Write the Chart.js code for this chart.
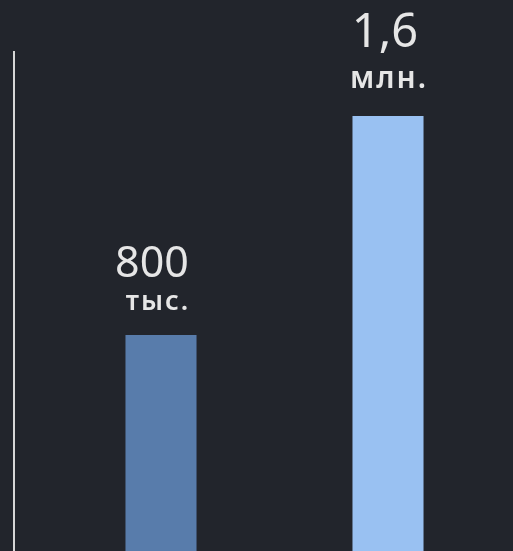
<!DOCTYPE html>
<html>
<head>
<meta charset="utf-8">
<script src="https://cdn.jsdelivr.net/npm/chart.js@4"></script>
<style>
  html, body { margin: 0; padding: 0; background: #22252c; }
  #wrap { width: 513px; height: 551px; }
</style>
</head>
<body>
<div id="wrap"><canvas id="bars"></canvas></div>
<script>
// данные графика
const categories = ['Период 1', 'Период 2']
const values = [800000, 1600000]
const valueLabels = ['800', '1,6']
const unitLabels = ['тыс.', 'млн.']
const barColors = ['#587cab', '#99c1f2']

// оформление подписей (размер шрифта, сдвиг от верха столбца)
const labelStyles = [
    { numSize: 43, numDx: -9, numDy: 58, unitSize: 27, unitDx: -4, unitDy: 25 },
    { numSize: 47, numDx: -3, numDy: 69, unitSize: 30, unitDx: 0, unitDy: 28 }
]

// подписи над столбцами
const labelPlugin = {
    id: 'barLabels',
    afterDatasetsDraw(chart) {
        const ctx = chart.ctx
        const meta = chart.getDatasetMeta(0)
        ctx.save()
        ctx.fillStyle = '#e6e6e6'
        ctx.textAlign = 'center'
        ctx.textBaseline = 'alphabetic'
        meta.data.forEach(function (bar, i) {
            const s = labelStyles[i]
            ctx.letterSpacing = '0px'
            ctx.font = '400 ' + s.numSize + 'px "Noto Sans"'
            ctx.fillText(valueLabels[i], bar.x + s.numDx, bar.y - s.numDy)
            ctx.letterSpacing = '2px'
            ctx.font = '600 ' + s.unitSize + 'px "Noto Sans"'
            ctx.fillText(unitLabels[i], bar.x + s.unitDx + 1, bar.y - s.unitDy)
        })
        ctx.restore()
    }
}

new Chart(document.getElementById('bars'), {
    type: 'bar',
    data: {
        labels: categories,
        datasets: [{
            data: values,
            backgroundColor: barColors,
            borderWidth: 0,
            categoryPercentage: 1,
            barPercentage: 0.313,
            yAxisID: 'y'
        }]
    },
    options: {
        responsive: true,
        maintainAspectRatio: false,
        animation: false,
        layout: { padding: { left: 14, right: 11.5, top: 52, bottom: 0 } },
        plugins: {
            legend: { display: false },
            tooltip: { enabled: false }
        },
        scales: {
            x: { display: false },
            y: {
                position: 'left',
                weight: 1,
                // ось в оригинале начинается чуть ниже края картинки
                min: 11000,
                max: 1834000,
                ticks: { display: false },
                grid: { display: true, drawOnChartArea: false, drawTicks: false },
                border: { display: true, color: '#d6d6d6', width: 2 }
            },
            // пустое место между осью и первым столбцом
            yPad: {
                position: 'left',
                weight: 0,
                ticks: { display: false },
                grid: { display: false },
                border: { display: false },
                afterFit: function (scale) { scale.width = 33.5 }
            }
        }
    },
    plugins: [labelPlugin]
})
</script>
</body>
</html>
